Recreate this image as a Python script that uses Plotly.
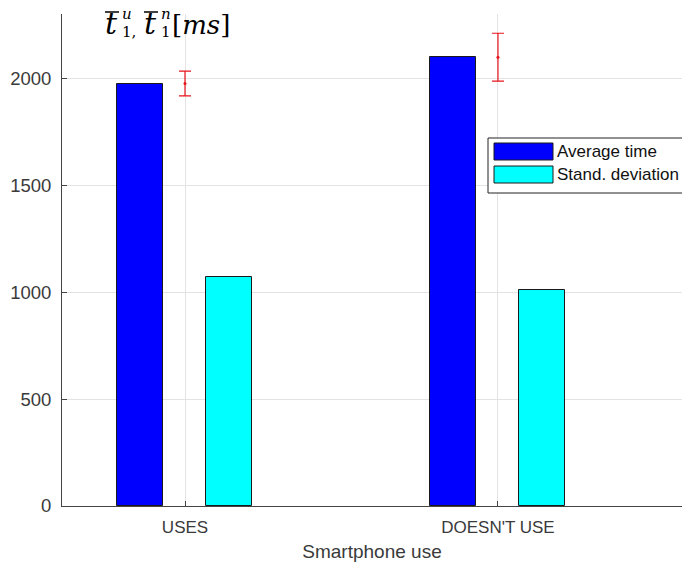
import plotly.graph_objects as go

categories = ["USES", "DOESN'T USE"]
avg_time = [1975, 2098]
std_dev = [1070, 1010]
err_mean = [1975, 2098]
err_half = [58, 112]
series_names = ["Average time", "Stand. deviation"]
y_ticks = [0, 500, 1000, 1500, 2000]

xpos = [1, 2]
L, R, T, B = 62, 682, 14, 506
W, H = 682, 565

fig = go.Figure()
fig.add_trace(go.Bar(x=xpos, y=avg_time, name=series_names[0], width=0.147, offset=-0.216,
                     marker=dict(color="#0000ff", line=dict(color="#1a1a1a", width=1)), showlegend=False))
fig.add_trace(go.Bar(x=xpos, y=std_dev, name=series_names[1], width=0.147, offset=0.068,
                     marker=dict(color="#00ffff", line=dict(color="#1a1a1a", width=1)), showlegend=False))
fig.add_trace(go.Scatter(x=xpos, y=err_mean, mode="markers",
                         marker=dict(color="#e8141c", size=3),
                         error_y=dict(type="data", array=err_half, color="#e8141c", thickness=1.2, width=6),
                         showlegend=False))

font = "Liberation Sans, Arial, sans-serif"
fig.update_layout(
    width=W, height=H,
    margin=dict(l=L, r=W - R, t=T, b=H - B),
    paper_bgcolor="white", plot_bgcolor="white",
    bargap=0,
    xaxis=dict(range=[0.607, 2.588], tickvals=xpos, ticktext=categories,
               showgrid=True, gridcolor="#e3e3e3", gridwidth=1,
               showline=True, linecolor="#444444", linewidth=1,
               ticks="inside", ticklen=5, tickcolor="#444444",
               ticklabelstandoff=6,
               tickfont=dict(family=font, size=17, color="#3a3a3a"),
               title=dict(text="Smartphone use", font=dict(family=font, size=19, color="#3a3a3a"), standoff=8),
               zeroline=False),
    yaxis=dict(range=[0, 2300], tickvals=y_ticks,
               showgrid=True, gridcolor="#e3e3e3", gridwidth=1,
               showline=True, linecolor="#444444", linewidth=1,
               ticks="inside", ticklen=5, tickcolor="#444444",
               ticklabelstandoff=6,
               tickfont=dict(family=font, size=18.5, color="#3a3a3a"),
               zeroline=False),
)

def px(x):
    return (x - L) / (R - L)

def py(y):
    return (B - y) / (B - T)

# legend box
fig.add_shape(type="rect", xref="paper", yref="paper", x0=px(488), x1=px(690), y0=py(193), y1=py(138),
              line=dict(color="#222222", width=1), fillcolor="white", layer="above")
colors = ["#0000ff", "#00ffff"]
sw = [(143, 160), (166, 183)]
for i, name in enumerate(series_names):
    y0, y1 = sw[i]
    fig.add_shape(type="rect", xref="paper", yref="paper", x0=px(494), x1=px(553), y0=py(y1), y1=py(y0),
                  line=dict(color="#1a1a1a", width=1), fillcolor=colors[i], layer="above")
    fig.add_annotation(xref="paper", yref="paper", x=px(555), y=py((y0 + y1) / 2), text=name, showarrow=False,
                       xanchor="left", yanchor="middle", font=dict(family=font, size=17, color="#111111"))

# y-axis title (math-like), built from pieces
mf = "DejaVu Serif, serif"
pieces = [
    ("<i>t</i>", 103, 23, 30),
    ("<i>u</i>", 120, 14, 15),
    ("1,", 120, 32, 15),
    ("<i>t</i>", 142, 23, 30),
    ("<i>n</i>", 159, 14, 15),
    ("1", 159, 32, 15),
    ("[<i>ms</i>]", 170, 25, 26),
]
for txt, x, y, s in pieces:
    fig.add_annotation(xref="paper", yref="paper", x=px(x), y=py(y), text=txt, showarrow=False,
                       xanchor="left", yanchor="middle", font=dict(family=mf, size=s, color="black"))
# macrons over the t's
for x0 in (105, 144):
    fig.add_shape(type="line", xref="paper", yref="paper", x0=px(x0), x1=px(x0 + 14), y0=py(12), y1=py(12),
                  line=dict(color="black", width=1.5))

fig.write_html("out.html")
